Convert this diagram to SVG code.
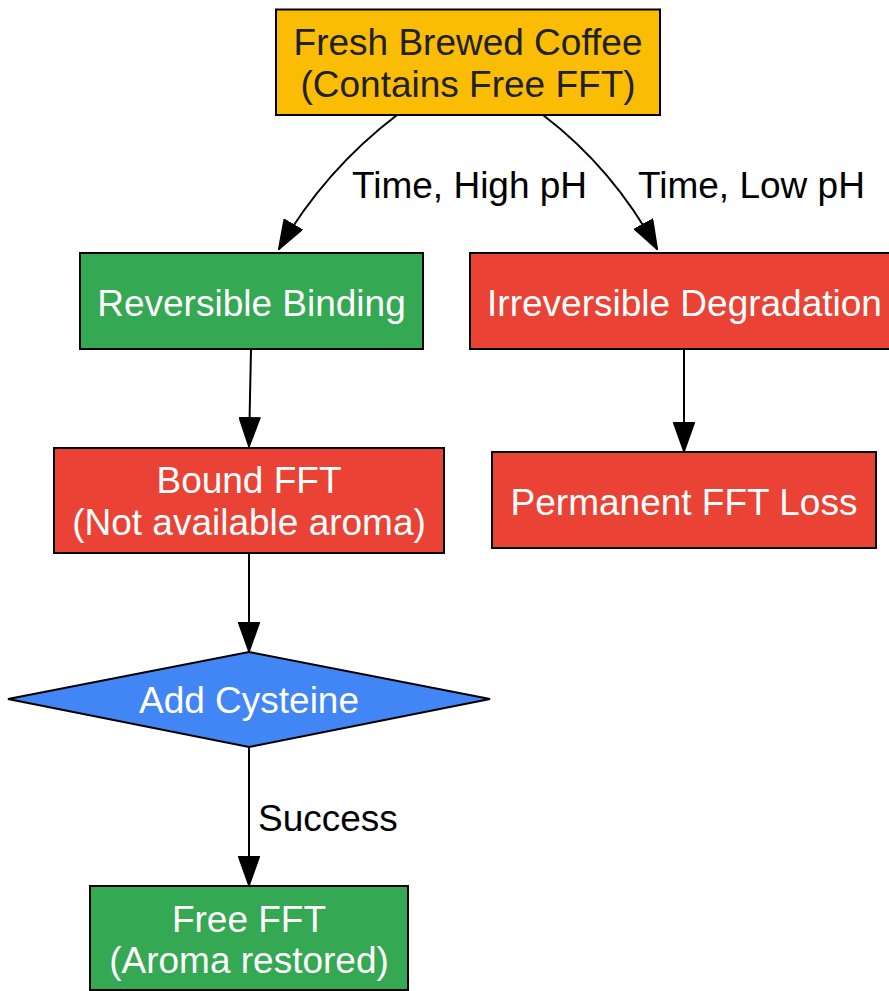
<svg xmlns="http://www.w3.org/2000/svg" width="889" height="991" viewBox="0 0 889 991">
<style>
.node{stroke:#000;stroke-width:2}
.t{font-family:"Liberation Sans",Arial,sans-serif;font-size:37px;text-anchor:middle;fill:#fff}
.dark{fill:#202124}
.lbl{font-family:"Liberation Sans",Arial,sans-serif;font-size:37px;fill:#000}
.edge{fill:none;stroke:#000;stroke-width:2;marker-end:url(#arr)}
</style>
<defs>
<marker id="arr" viewBox="0 0 30 22" refX="29" refY="11" markerWidth="30" markerHeight="22" markerUnits="userSpaceOnUse" orient="auto">
<path d="M1,1 L29,11 L1,21 z" fill="#000" stroke="#000" stroke-width="2"/>
</marker>
</defs>
<rect width="889" height="991" fill="#fff"/>
<g id="connectors">
<path class="edge" d="M397,115 C355,147 312,192 279,249"/>
<path class="edge" d="M543,115 C585,147 626,192 657,249"/>
<path class="edge" d="M251,349 L249,446"/>
<path class="edge" d="M684,349 L684,451"/>
<path class="edge" d="M249,553 L249,651"/>
<path class="edge" d="M249,747 L249,885"/>
<text class="lbl" x="352" y="198">Time, High pH</text>
<text class="lbl" x="638" y="198">Time, Low pH</text>
<text class="lbl" x="258" y="831">Success</text>
</g>
<g id="fresh">
<rect class="node" x="276" y="9.5" width="384" height="105.5" fill="#FBBC04"/>
<text class="t dark" x="468" y="55">Fresh Brewed Coffee</text>
<text class="t dark" x="468" y="97">(Contains Free FFT)</text>
</g>
<g id="reversible">
<rect class="node" x="80" y="253" width="343" height="96" fill="#34A853"/>
<text class="t" x="251.5" y="316">Reversible Binding</text>
</g>
<g id="irreversible">
<rect class="node" x="470" y="253" width="428" height="96" fill="#EA4335"/>
<text class="t" x="684.5" y="316">Irreversible Degradation</text>
</g>
<g id="bound">
<rect class="node" x="54" y="448" width="390" height="105" fill="#EA4335"/>
<text class="t" x="249" y="493">Bound FFT</text>
<text class="t" x="249" y="535">(Not available aroma)</text>
</g>
<g id="permanent">
<rect class="node" x="492" y="452" width="384" height="96" fill="#EA4335"/>
<text class="t" x="684" y="515">Permanent FFT Loss</text>
</g>
<g id="cysteine">
<polygon class="node" points="249,652 490,699 249,747 8,699" fill="#4285F4"/>
<text class="t" x="249" y="713">Add Cysteine</text>
</g>
<g id="free">
<rect class="node" x="90" y="886" width="318" height="104" fill="#34A853"/>
<text class="t" x="249" y="932">Free FFT</text>
<text class="t" x="249" y="973">(Aroma restored)</text>
</g>
</svg>
